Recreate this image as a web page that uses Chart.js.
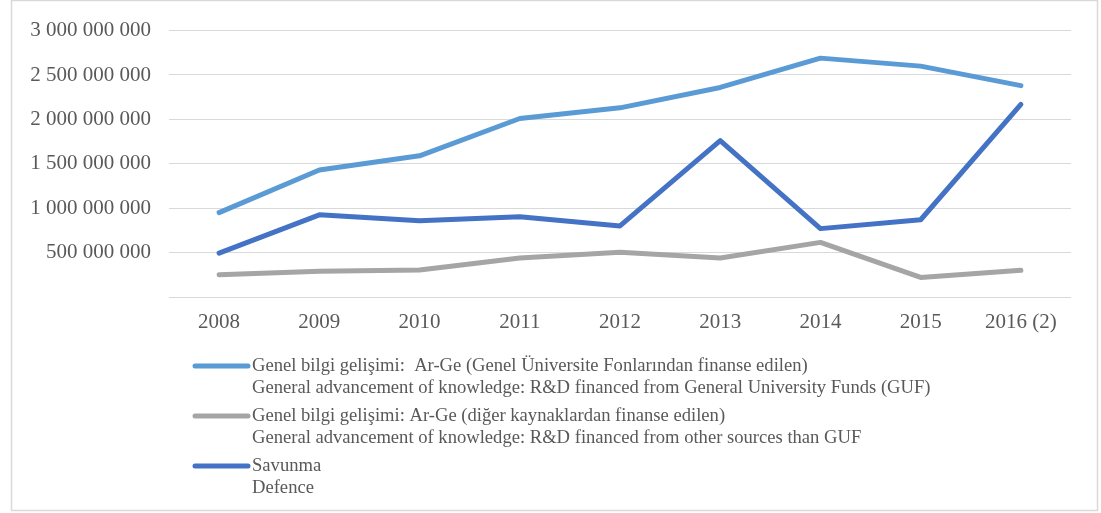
<!DOCTYPE html>
<html>
<head>
<meta charset="utf-8">
<script src="https://cdn.jsdelivr.net/npm/chart.js@4/dist/chart.umd.min.js"></script>
<style>
  body { margin: 0; background: #fff; }
  canvas { display: block; }
</style>
</head>
<body>
<canvas id="lineChart" width="1101" height="513"></canvas>
<script>
// years on the x axis
const years = ['2008', '2009', '2010', '2011', '2012', '2013', '2014', '2015', '2016 (2)'];

// Genel bilgi gelişimi - Genel Üniversite Fonları (GUF)
const gufValues = [950000000, 1430000000, 1590000000, 2010000000, 2130000000, 2360000000, 2690000000, 2600000000, 2380000000];
// Genel bilgi gelişimi - diğer kaynaklar
const otherValues = [250000000, 290000000, 305000000, 440000000, 505000000, 440000000, 615000000, 220000000, 300000000];
// Savunma
const defenceValues = [495000000, 925000000, 860000000, 905000000, 800000000, 1760000000, 770000000, 870000000, 2170000000];

// two-line legend texts (Turkish / English)
const legendTexts = [
  ['Genel bilgi gelişimi:  Ar-Ge (Genel Üniversite Fonlarından finanse edilen)',
   'General advancement of knowledge: R&D financed from General University Funds (GUF)'],
  ['Genel bilgi gelişimi: Ar-Ge (diğer kaynaklardan finanse edilen)',
   'General advancement of knowledge: R&D financed from other sources than GUF'],
  ['Savunma', 'Defence']
];

const textColor = '#595959';
const serif = "'Liberation Serif', 'Times New Roman', serif";

// outer frame around the whole chart
const framePlugin = {
  id: 'frame',
  beforeDraw(chart) {
    const ctx = chart.ctx;
    ctx.save();
    ctx.fillStyle = '#fff';
    ctx.fillRect(0, 0, chart.width, chart.height);
    ctx.strokeStyle = '#d9d9d9';
    ctx.lineWidth = 1.5;
    ctx.strokeRect(11.5, 0.5, 1086, 510);
    ctx.restore();
  }
};

// legend drawn under the axis, one entry per dataset, two text lines each
const bottomLegend = {
  id: 'bottomLegend',
  afterDraw(chart) {
    const ctx = chart.ctx;
    ctx.save();
    ctx.font = '18.6px ' + serif;
    ctx.textBaseline = 'middle';
    ctx.fillStyle = textColor;
    chart.data.datasets.forEach((ds, i) => {
      const y = 366 + i * 50;
      ctx.strokeStyle = ds.borderColor;
      ctx.lineWidth = 5;
      ctx.lineCap = 'round';
      ctx.beginPath();
      ctx.moveTo(195, y);
      ctx.lineTo(248, y);
      ctx.stroke();
      ds.label.forEach((line, j) => {
        ctx.fillText(line, 252, y + j * 22);
      });
    });
    ctx.restore();
  }
};

const lineStyle = {
  borderWidth: 5,
  borderCapStyle: 'round',
  borderJoinStyle: 'round',
  pointRadius: 0,
  fill: false,
  tension: 0
};

new Chart(document.getElementById('lineChart'), {
  type: 'line',
  data: {
    labels: years,
    datasets: [
      Object.assign({ label: legendTexts[0], data: gufValues, borderColor: '#5b9bd5' }, lineStyle),
      Object.assign({ label: legendTexts[1], data: otherValues, borderColor: '#a5a5a5' }, lineStyle),
      Object.assign({ label: legendTexts[2], data: defenceValues, borderColor: '#4472c4' }, lineStyle)
    ]
  },
  options: {
    responsive: false,
    animation: false,
    layout: { padding: { top: 29.5, right: 30, bottom: 176, left: 0 } },
    plugins: {
      legend: { display: false },
      tooltip: { enabled: false }
    },
    scales: {
      x: {
        offset: true,
        grid: { display: false },
        border: { display: false },
        ticks: { color: textColor, font: { family: serif, size: 21 }, padding: 5, maxRotation: 0 },
        afterFit(scale) { scale.height = 40; }
      },
      y: {
        min: 0,
        max: 3000000000,
        grid: { color: '#d9d9d9', lineWidth: 1, drawTicks: false },
        border: { display: false },
        ticks: {
          stepSize: 500000000,
          color: textColor,
          font: { family: serif, size: 21 },
          padding: 18,
          callback: v => v === 0 ? '' : String(v).replace(/\B(?=(\d{3})+(?!\d))/g, ' ')
        },
        afterFit(scale) { scale.width = 169; }
      }
    }
  },
  plugins: [framePlugin, bottomLegend]
});
</script>
</body>
</html>
